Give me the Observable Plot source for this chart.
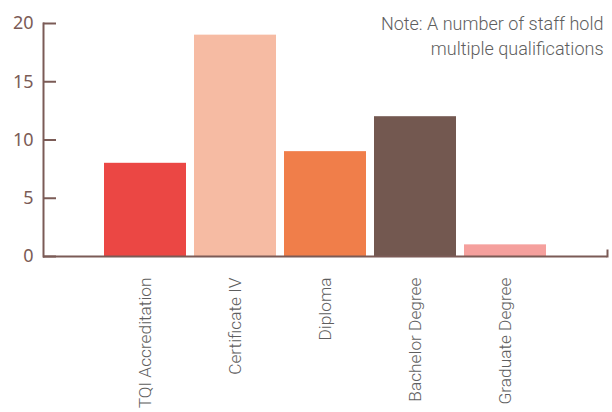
<!DOCTYPE html>
<html>
<head>
<meta charset="utf-8">
<script src="https://cdn.jsdelivr.net/npm/d3@7"></script>
<script src="https://cdn.jsdelivr.net/npm/@observablehq/plot@0.6"></script>
<style>
  html, body { margin: 0; padding: 0; background: #fff; }
  #chart { width: 612px; height: 412px; }
</style>
</head>
<body>
<div id="chart"></div>
<script>
const categories = ["TQI Accreditation", "Certificate IV", "Diploma", "Bachelor Degree", "Graduate Degree"];
const values = [8, 19, 9, 12, 1];
const colors = ["#eb4744", "#f6bba3", "#f07e4a", "#735850", "#f5a09d"];
const yTicks = [0, 5, 10, 15, 20];
const noteText = "Note: A number of staff hold\nmultiple qualifications";

const data = categories.map((c, i) => ({category: c, value: values[i], color: colors[i]}));
const axisColor = "#7b5b56";
const narrow = "Roboto, sans-serif";

const chart = Plot.plot({
  width: 612,
  height: 412,
  marginLeft: 43,
  marginRight: 5,
  marginTop: 23,
  marginBottom: 156,
  style: {background: "#fff", overflow: "visible"},
  x: {domain: categories, paddingInner: 0.09, paddingOuter: 0.67, label: null},
  y: {domain: [0, 20], label: null},
  marks: [
    Plot.barY(data, {x: "category", y: "value", fill: "color"}),
    Plot.axisY({ticks: yTicks, tickSize: -13, tickPadding: 0, text: null, stroke: axisColor, strokeWidth: 2, label: null}),
    Plot.axisY({ticks: yTicks, tickSize: 0, tickPadding: 10, fill: axisColor, fontSize: 18, fontFamily: "'Noto Sans', sans-serif", label: null}),
    Plot.axisX({tickSize: 0, tickRotate: -90, tickPadding: 21, fill: "#5e5e5e", fontSize: 17.3, fontWeight: 300, fontFamily: narrow, label: null}),
    Plot.frame({anchor: "left", stroke: axisColor, strokeWidth: 2}),
    Plot.ruleY([0], {stroke: axisColor, strokeWidth: 2}),
    Plot.frame({anchor: "right", stroke: axisColor, strokeWidth: 2, insetTop: 227}),
    Plot.text([noteText], {frameAnchor: "top-right", text: d => d, textAnchor: "end", lineAnchor: "top", dy: -11, dx: -4, lineHeight: 1.39, fill: "#5e5e5e", fontSize: 18, fontWeight: 300, fontFamily: narrow})
  ]
});
document.getElementById("chart").appendChild(chart);
</script>
</body>
</html>
